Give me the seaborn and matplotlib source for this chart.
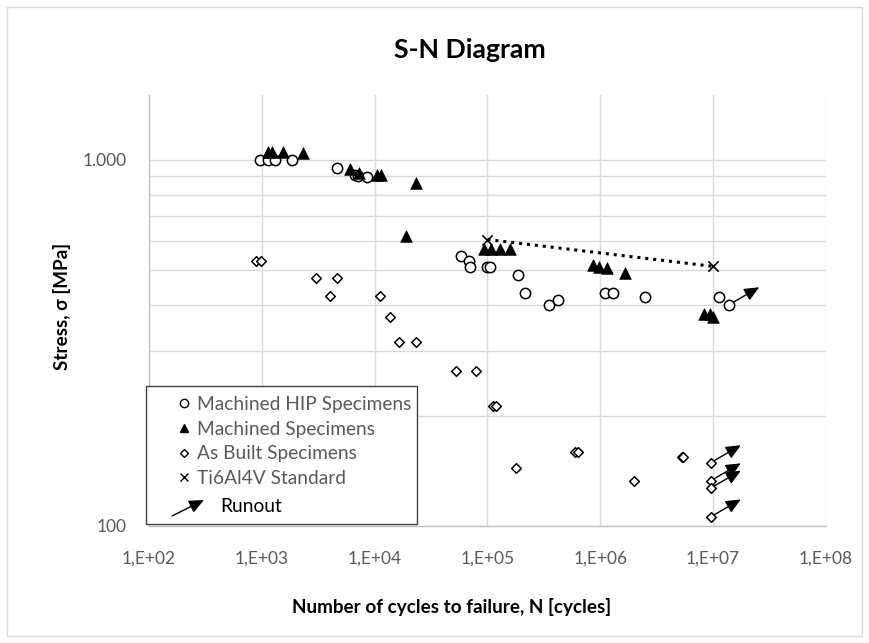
import numpy as np
import pandas as pd
import matplotlib
matplotlib.use("Agg")
import matplotlib.pyplot as plt
import seaborn as sns
from matplotlib.lines import Line2D
from matplotlib.patches import Rectangle, FancyArrowPatch
from matplotlib.ticker import FixedLocator, FixedFormatter, NullLocator, LogLocator, NullFormatter

# ---------------- data ----------------
hip_cycles = [960, 1130, 1300, 1840, 4680, 6650, 7080, 8490, 57700, 68400, 69300,
              99400, 106000, 188000, 217000, 354000, 423000, 1.107e6, 1.30e6, 2.50e6,
              1.13e7, 1.39e7]
hip_stress = [1000, 1000, 1000, 1000, 950, 905, 902, 895, 547, 528, 508,
              508, 508, 485, 433, 402, 413, 433, 433, 421,
              421, 402]

mach_cycles = [1130, 1225, 1535, 2310, 6100, 7260, 10470, 11450, 23100, 18800,
               94000, 108000, 128000, 157000, 855000, 980000, 1.14e6, 1.655e6,
               8.3e6, 9.3e6, 1.0e7]
mach_stress = [1048, 1048, 1048, 1040, 945, 916, 910, 910, 862, 617,
               571, 571, 571, 571, 514, 509, 507, 490,
               380, 378, 372]

built_cycles = [885, 980, 2990, 4680, 4020, 11070, 13800, 16400, 23400, 52100, 78300,
                112000, 120000, 179000, 600000, 640000, 1.97e6, 5.25e6, 5.45e6,
                9.55e6, 9.55e6, 9.55e6, 9.55e6]
built_stress = [530, 530, 476, 476, 424, 424, 371, 318, 318, 265, 265,
                212, 212, 144, 159, 159, 133, 154, 154,
                149, 133, 127, 106]

std_cycles = [1e5, 1e7]
std_stress = [605, 511]

runout_cycles = [1.39e7, 9.55e6, 9.55e6, 9.55e6, 9.55e6]
runout_stress = [402, 149, 133, 127, 106]

x_ticks = [1e2, 1e3, 1e4, 1e5, 1e6, 1e7, 1e8]
x_tick_labels = ["1,E+02", "1,E+03", "1,E+04", "1,E+05", "1,E+06", "1,E+07", "1,E+08"]
y_ticks = [100, 1000]
y_tick_labels = ["100", "1.000"]

series_labels = ["Machined HIP Specimens", "Machined Specimens", "As Built Specimens", "Ti6Al4V Standard"]

# ---------------- style ----------------
sns.set_theme(style="white")
plt.rcParams["font.family"] = ["Lato", "DejaVu Sans"]
GRAY = "#595959"
GRID = "#d9d9d9"
W, H = 870, 643

fig = plt.figure(figsize=(W / 100, H / 100), dpi=100)
ax = fig.add_axes([149 / W, 1 - 526 / H, (826 - 149) / W, (526 - 95) / H])
ax.set_xscale("log")
ax.set_yscale("log")
ax.set_xlim(1e2, 1e8)
ax.set_ylim(100, 1500)

ARROW = "-|>,head_length=0.45,head_width=0.2"

# runout arrows (below markers)
RUN_FX, RUN_FY = 1.84, 1.115
for n, s in zip(runout_cycles, runout_stress):
    ax.annotate("", xy=(n * RUN_FX, s * RUN_FY), xytext=(n, s),
                arrowprops=dict(arrowstyle=ARROW, mutation_scale=20, color="black", lw=1,
                                shrinkA=0, shrinkB=0), zorder=2)

# Ti6Al4V dotted line
sns.lineplot(x=std_cycles, y=std_stress, ax=ax, color="black", linestyle=(0, (1, 1.6)),
             linewidth=2.2, zorder=3, legend=False)

sns.scatterplot(x=hip_cycles, y=hip_stress, ax=ax, marker="o", s=55,
                facecolor="white", edgecolor="black", linewidth=1.1, zorder=5)
sns.scatterplot(x=mach_cycles, y=mach_stress, ax=ax, marker="^", s=70,
                color="black", edgecolor="black", linewidth=0.5, zorder=6)
sns.scatterplot(x=built_cycles, y=built_stress, ax=ax, marker="D", s=24,
                facecolor="white", edgecolor="black", linewidth=1.1, zorder=5)
sns.scatterplot(x=std_cycles, y=std_stress, ax=ax, marker="x", s=55,
                color="black", linewidth=1.2, zorder=6)

# grid & ticks
ax.xaxis.set_major_locator(FixedLocator(x_ticks))
ax.xaxis.set_major_formatter(FixedFormatter(x_tick_labels))
ax.xaxis.set_minor_locator(NullLocator())
ax.yaxis.set_major_locator(FixedLocator(y_ticks))
ax.yaxis.set_major_formatter(FixedFormatter(y_tick_labels))
ax.yaxis.set_minor_locator(LogLocator(base=10, subs=np.arange(2, 10)))
ax.yaxis.set_minor_formatter(NullFormatter())
ax.grid(True, which="major", axis="both", color=GRID, linewidth=1)
ax.grid(True, which="minor", axis="y", color=GRID, linewidth=1)
ax.set_axisbelow(True)
ax.tick_params(axis="both", which="both", length=0, labelsize=12.5, labelcolor=GRAY)
ax.tick_params(axis="x", pad=18)
ax.tick_params(axis="y", pad=16)
for sp in ["top", "right"]:
    ax.spines[sp].set_visible(False)
for sp in ["left", "bottom"]:
    ax.spines[sp].set_color("#bfbfbf")
    ax.spines[sp].set_linewidth(1)
ax.set_xlabel("")
ax.set_ylabel("")

# titles
fig.text(469.5 / W, 1 - 50 / H, "S-N Diagram", ha="center", va="center",
         fontsize=19.2, fontweight="bold", color="black")
fig.text(452 / W, 1 - 607 / H, "Number of cycles to failure, N [cycles]", ha="center",
         va="center", fontsize=13.6, fontweight="bold", color="black")
fig.text(62 / W, 1 - 306 / H, "Stress, \u03c3 [MPa]", ha="center", va="center",
         rotation=90, fontsize=13.6, fontweight="bold", color="black")

# legend frame
fig.patches.append(Rectangle((146 / W, 1 - 524 / H), (417 - 146) / W, (524 - 386) / H,
                             transform=fig.transFigure, facecolor="white",
                             edgecolor="#404040", linewidth=1, zorder=10))
handles = [
    Line2D([], [], marker="o", linestyle="none", markersize=6, markerfacecolor="white",
           markeredgecolor="black", markeredgewidth=1),
    Line2D([], [], marker="^", linestyle="none", markersize=6, color="black"),
    Line2D([], [], marker="D", linestyle="none", markersize=4.5, markerfacecolor="white",
           markeredgecolor="black", markeredgewidth=1),
    Line2D([], [], marker="x", linestyle="none", markersize=6, color="black", markeredgewidth=1),
]
leg = fig.legend(handles, series_labels, loc="upper left",
                 bbox_to_anchor=(176 / W, 1 - 396 / H), frameon=False,
                 fontsize=13.8, labelcolor=GRAY, handlelength=0.8, handletextpad=0.3,
                 labelspacing=0.4, borderpad=0, borderaxespad=0)
leg.set_zorder(11)
fig.patches.append(FancyArrowPatch((172 / W, 1 - 516 / H), (204 / W, 1 - 500 / H),
                                   transform=fig.transFigure, arrowstyle=ARROW,
                                   mutation_scale=20, color="black", lw=1,
                                   shrinkA=0, shrinkB=0, zorder=12))
fig.text(220 / W, 1 - 506 / H, "Runout", ha="left", va="center", fontsize=13.8,
         color="black", zorder=12)

# chart border
fig.patches.append(Rectangle((7 / W, 1 - 636 / H), (862 - 7) / W, (636 - 7) / H,
                             transform=fig.transFigure, facecolor="none",
                             edgecolor=GRID, linewidth=1, zorder=0))

fig.savefig("out.png", dpi=100)
